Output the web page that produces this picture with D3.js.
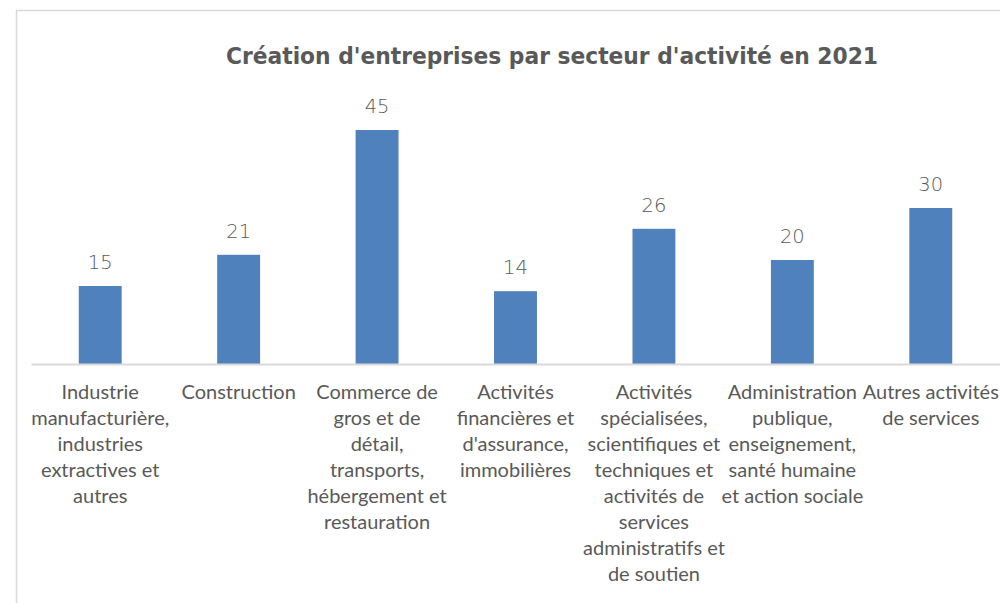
<!DOCTYPE html>
<html>
<head>
<meta charset="utf-8">
<script src="https://cdn.jsdelivr.net/npm/d3@7"></script>
<style>
  html, body { margin: 0; padding: 0; background: #fff; }
  svg { display: block; }
</style>
</head>
<body>
<svg id="chart" width="1000" height="603"></svg>
<script>
// Secteurs d'activité (libellés répartis sur plusieurs lignes)
const categories = [
  "Industrie manufacturière, industries extractives et autres",
  "Construction",
  "Commerce de gros et de détail, transports, hébergement et restauration",
  "Activités financières et d'assurance, immobilières",
  "Activités spécialisées, scientifiques et techniques et activités de services administratifs et de soutien",
  "Administration publique, enseignement, santé humaine et action sociale",
  "Autres activités de services"
];
const tickLabels = [
  ["Industrie", "manufacturière,", "industries", "extractives et", "autres"],
  ["Construction"],
  ["Commerce de", "gros et de", "détail,", "transports,", "hébergement et", "restauration"],
  ["Activités", "financières et", "d'assurance,", "immobilières"],
  ["Activités", "spécialisées,", "scientifiques et", "techniques et", "activités de", "services", "administratifs et", "de soutien"],
  ["Administration", "publique,", "enseignement,", "santé humaine", "et action sociale"],
  ["Autres activités", "de services"]
];
const values = [15, 21, 45, 14, 26, 20, 30];
const title = "Création d'entreprises par secteur d'activité en 2021";

const svg = d3.select("#chart");
const textColor = "#595959";

// Cadre du graphique
svg.append("path")
  .attr("d", "M16.5,603 L16.5,10.5 L1000,10.5")
  .attr("fill", "none")
  .attr("stroke", "#d9d9d9")
  .attr("stroke-width", 1.5);

const plot = { left: 31, right: 1000, baseline: 364 };

const x = d3.scaleBand()
  .domain(categories)
  .range([plot.left, plot.right])
  .paddingInner(0.69)
  .paddingOuter(0.345);

const y = d3.scaleLinear()
  .domain([0, 45])
  .range([plot.baseline, 130]);

// Titre
svg.append("text")
  .attr("x", 552)
  .attr("y", 64)
  .attr("text-anchor", "middle")
  .attr("font-family", "'DejaVu Sans', sans-serif")
  .attr("font-weight", "bold")
  .attr("font-size", 22.5)
  .attr("fill", "#595959")
  .attr("textLength", 652)
  .attr("lengthAdjust", "spacingAndGlyphs")
  .text(title);

// Barres
svg.append("g")
  .selectAll("rect")
  .data(values)
  .join("rect")
  .attr("x", (d, i) => x(categories[i]))
  .attr("y", d => y(d))
  .attr("width", x.bandwidth())
  .attr("height", d => y(0) - y(d))
  .attr("fill", "#4f81bd");

// Étiquettes de valeur
svg.append("g")
  .selectAll("text")
  .data(values)
  .join("text")
  .attr("x", (d, i) => x(categories[i]) + x.bandwidth() / 2)
  .attr("y", d => y(d) - 17)
  .attr("text-anchor", "middle")
  .attr("font-family", "'DejaVu Sans', sans-serif")
  .attr("font-weight", 300)
  .attr("font-size", 19.5)
  .attr("fill", textColor)
  .text(d => d);

// Axe des catégories
const xAxis = d3.axisBottom(x).tickSize(0).tickFormat("");
const axisG = svg.append("g")
  .attr("transform", `translate(0,${plot.baseline})`)
  .call(xAxis);
axisG.select(".domain")
  .attr("stroke", "#d9d9d9")
  .attr("stroke-width", 2);

axisG.selectAll(".tick").each(function(d, i) {
  const t = d3.select(this).append("text")
    .attr("text-anchor", "middle")
    .attr("font-family", "Lato, 'Open Sans', sans-serif")
    .attr("font-size", 20)
    .attr("fill", textColor)
    .attr("y", 35);
  tickLabels[i].forEach((line, k) => {
    t.append("tspan")
      .attr("x", 0)
      .attr("dy", k === 0 ? 0 : 26)
      .text(line);
  });
});
</script>
</body>
</html>
